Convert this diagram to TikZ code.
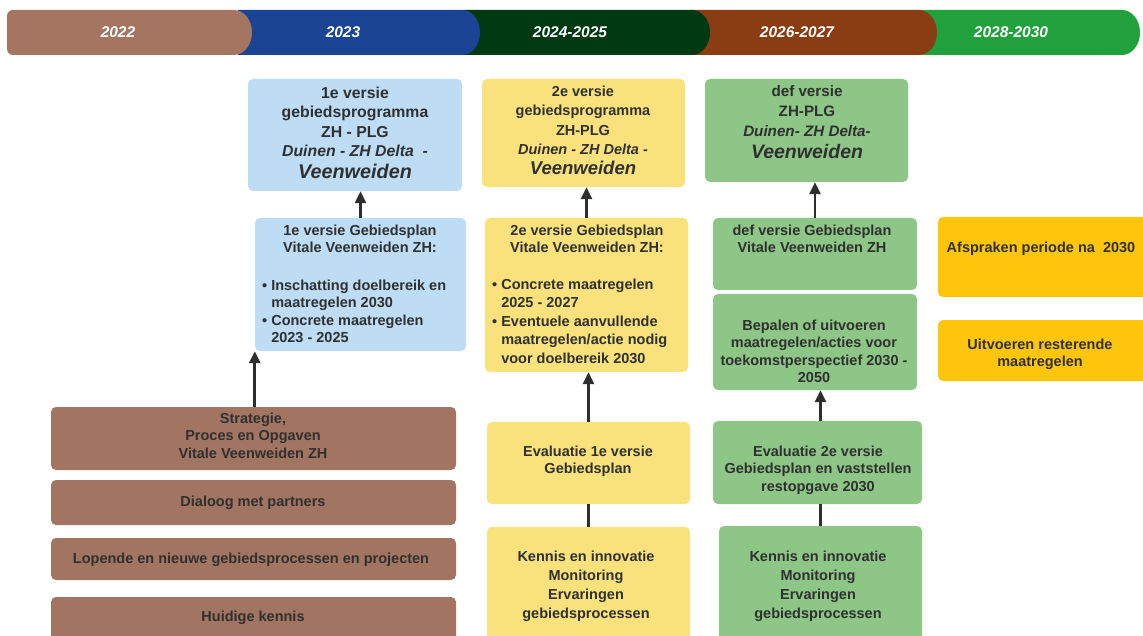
\documentclass[tikz,border=0pt]{standalone}
\usepackage{fontspec}
\setmainfont{Liberation Sans}
\usetikzlibrary{arrows.meta,calc}
\definecolor{tlA}{HTML}{A47662}
\definecolor{tlB}{HTML}{1B4494}
\definecolor{tlC}{HTML}{013A12}
\definecolor{tlD}{HTML}{8A3D12}
\definecolor{tlE}{HTML}{20A13B}
\definecolor{bluebox}{HTML}{BEDCF4}
\definecolor{yelbox}{HTML}{F9E27B}
\definecolor{grnbox}{HTML}{8DC687}
\definecolor{goldbox}{HTML}{FDC50C}
\definecolor{brnbox}{HTML}{A27562}
\definecolor{txtc}{HTML}{303030}
\definecolor{arrc}{HTML}{2E2E2E}
\newcommand\bx[6]{\node[box,fill=#6,minimum width={(#4-#2)*1pt},minimum height={(#5-#3)*1pt}] (#1) at ({(#2+#4)/2},{(#3+#5)/2}) {};}
\begin{document}
\begin{tikzpicture}[x=1pt,y=-1pt,
 box/.style={rounded corners=5pt, inner sep=0pt, draw=none},
 txt/.style={text=txtc, font=\fontsize{14.5}{17.5}\selectfont\bfseries, align=center, inner sep=0pt, anchor=north},
 blt/.style={text=txtc, font=\fontsize{14.5}{17.5}\selectfont\bfseries, align=left, inner sep=0pt, anchor=north west},
 yr/.style={text=white, font=\fontsize{15.5}{18}\selectfont\bfseries\itshape, inner sep=0pt},
 arr/.style={draw=arrc, line width=2.7pt, -{Triangle[width=11pt,length=12pt]}},
 link/.style={draw=arrc, line width=2.7pt}]
\useasboundingbox (0,0) rectangle (1143,636);
\clip (0,0) rectangle (1143,636);
\fill[white] (0,0) rectangle (1143,636);
% timeline
\fill[tlE] (918,10) -- (1122,10) arc[start angle=-90,end angle=90,x radius=18,y radius=22.5] -- (918,55) -- cycle;
\fill[tlD] (690,10) -- (919,10) arc[start angle=-90,end angle=90,x radius=18,y radius=22.5] -- (690,55) -- cycle;
\fill[tlC] (462,10) -- (692,10) arc[start angle=-90,end angle=90,x radius=18,y radius=22.5] -- (462,55) -- cycle;
\fill[tlB] (238,10) -- (462,10) arc[start angle=-90,end angle=90,x radius=18,y radius=22.5] -- (238,55) -- cycle;
\fill[tlA, rounded corners=6pt] (40,55) -- (7,55) -- (7,10) -- (40,10) [sharp corners] -- (234,10) arc[start angle=-90,end angle=90,x radius=18,y radius=22.5] -- cycle;
\node[yr] (y1) at (118,32) {2022};
\node[yr] (y2) at (343,32) {2023};
\node[yr] (y3) at (570,32) {2024-2025};
\node[yr] (y4) at (797,32) {2026-2027};
\node[yr] (y5) at (1011,32) {2028-2030};
% boxes
\bx{A1}{248}{79}{462}{191}{bluebox}
\bx{A2}{255}{218}{466}{351}{bluebox}
\bx{B1}{482}{79}{685}{187}{yelbox}
\bx{B2}{485}{218}{688}{372}{yelbox}
\bx{B3}{487}{422}{690}{504}{yelbox}
\bx{B4}{487}{527}{690}{650}{yelbox}
\bx{C1}{705}{79}{908}{182}{grnbox}
\bx{C2}{713}{218}{917}{290}{grnbox}
\bx{C3}{713}{294}{917}{390}{grnbox}
\bx{C4}{713}{421}{922}{504}{grnbox}
\bx{C5}{719}{526}{922}{650}{grnbox}
\bx{D1}{938}{217}{1155}{297}{goldbox}
\bx{D2}{938}{320}{1155}{381}{goldbox}
\bx{E1}{51}{407}{456}{470}{brnbox}
\bx{E2}{51}{480}{456}{525}{brnbox}
\bx{E3}{51}{538}{456}{580}{brnbox}
\bx{E4}{51}{597}{456}{650}{brnbox}
% texts
\node[txt, font=\fontsize{15.8}{19.5}\selectfont\bfseries] (A1t) at (355,86.5) {1e versie\\gebiedsprogramma\\ZH - PLG\\\textit{Duinen - ZH Delta\ \ -}\\[2pt]{\fontsize{19.8}{22}\selectfont\itshape Veenweiden}};
\node[txt] (A2h) at (360,224.5) {1e versie Gebiedsplan\\Vitale Veenweiden ZH:};
\node[blt] (A2b) at (262,279.5) {• Inschatting doelbereik en\\\phantom{• }maatregelen 2030\\• Concrete maatregelen\\\phantom{• }2023 - 2025};
\node[txt, font=\fontsize{14.5}{19.5}\selectfont\bfseries] (B1t) at (583,85.5) {2e versie\\gebiedsprogramma\\ZH-PLG\\\textit{Duinen - ZH Delta -}\\{\fontsize{18.5}{21}\selectfont\itshape Veenweiden}};
\node[txt] (B2h) at (587,224.5) {2e versie Gebiedsplan\\Vitale Veenweiden ZH:};
\node[blt, font=\fontsize{14.5}{18.5}\selectfont\bfseries] (B2b) at (492,278.5) {• Concrete maatregelen\\\phantom{• }2025 - 2027\\• Eventuele aanvullende\\\phantom{• }maatregelen/actie nodig\\\phantom{• }voor doelbereik 2030};
\node[txt] (B3t) at (588,445.5) {Evaluatie 1e versie\\Gebiedsplan};
\node[txt, font=\fontsize{14.5}{19}\selectfont\bfseries] (B4t) at (586,550.5) {Kennis en innovatie\\Monitoring\\Ervaringen\\gebiedsprocessen};
\node[txt, font=\fontsize{15.2}{20}\selectfont\bfseries] (C1t) at (807,85.5) {def versie\\ZH-PLG\\\textit{Duinen- ZH Delta-}\\[2pt]{\fontsize{19.5}{22}\selectfont\itshape Veenweiden}};
\node[txt] (C2t) at (812,224.5) {def versie Gebiedsplan\\Vitale Veenweiden ZH};
\node[txt] (C3t) at (814,319.5) {Bepalen of uitvoeren\\maatregelen/acties voor\\toekomstperspectief 2030 -\\2050};
\node[txt] (C4t) at (818,445.5) {Evaluatie 2e versie\\Gebiedsplan en vaststellen\\restopgave 2030};
\node[txt, font=\fontsize{14.5}{19}\selectfont\bfseries] (C5t) at (818,550.5) {Kennis en innovatie\\Monitoring\\Ervaringen\\gebiedsprocessen};
\node[txt] (D1t) at (1041,241.5) {Afspraken periode na\ \ 2030};
\node[txt] (D2t) at (1040,338.5) {Uitvoeren resterende\\maatregelen};
\node[txt] (E1t) at (253,412.5) {Strategie,\\Proces en Opgaven\\Vitale Veenweiden ZH};
\node[txt] (E2t) at (253,495.5) {Dialoog met partners};
\node[txt] (E3t) at (251,552.5) {Lopende en nieuwe gebiedsprocessen en projecten};
\node[txt] (E4t) at (253,610.5) {Huidige kennis};
% connectors
\draw[arr] (A2.north) -- (A2.north |- A1.south);
\draw[arr] (A2.south west |- E1.north) -- (A2.south west);
\draw[arr] (B2.north) -- (B2.north |- B1.south);
\draw[arr] (B3.north) -- (B3.north |- B2.south);
\draw[link] (B4.north) -- (B4.north |- B3.south);
\draw[arr] (C2.north) -- (C2.north |- C1.south);
\draw[arr] ([xshift=3pt]C4.north) -- ([xshift=3pt]C4.north |- C3.south);
\draw[link] (C5.north) -- (C5.north |- C4.south);
\end{tikzpicture}
\end{document}
